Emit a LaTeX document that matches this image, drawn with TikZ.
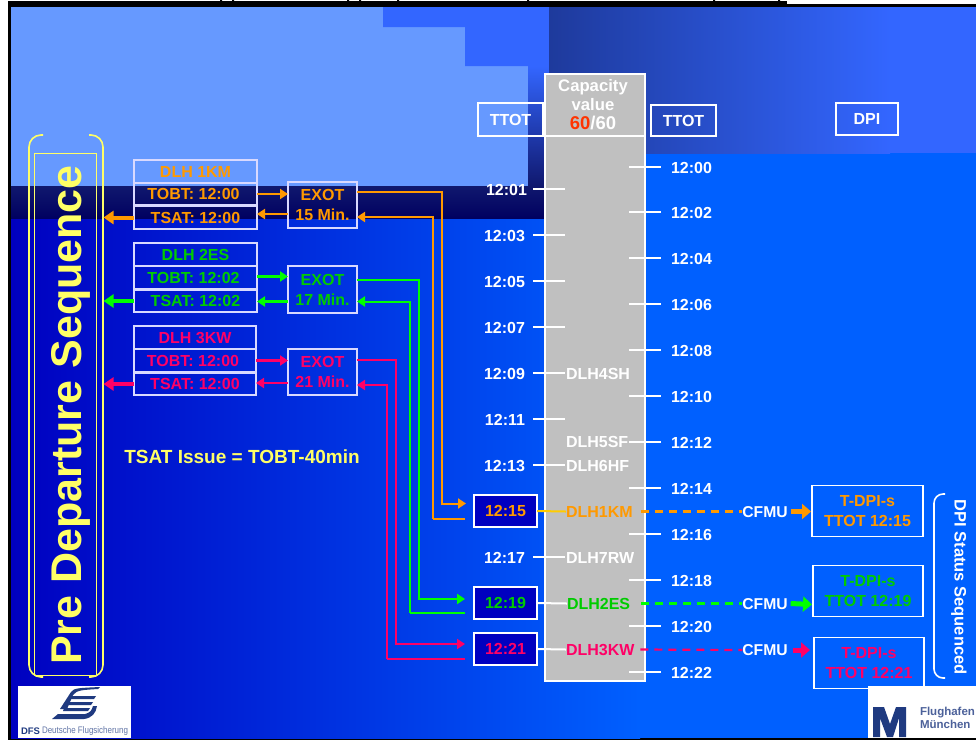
\documentclass[tikz,border=0pt]{standalone}
\usepackage{fontspec}
\usepackage{graphicx}
\setmainfont{Liberation Sans}
\usetikzlibrary{arrows.meta,calc}
\definecolor{lightbg}{HTML}{6699FF}
\definecolor{midbg}{HTML}{3366FF}
\definecolor{deep}{HTML}{0000C0}
\definecolor{sky}{HTML}{0060FF}
\definecolor{navyA}{HTML}{10186E}
\definecolor{navyB}{HTML}{000060}
\definecolor{topdark}{HTML}{1E3A9C}
\definecolor{cola}{HTML}{FF9900}
\definecolor{colb}{HTML}{00CC00}
\definecolor{colc}{HTML}{FF0066}
\definecolor{linea}{HTML}{FF9900}
\definecolor{lineb}{HTML}{00FF00}
\definecolor{linec}{HTML}{FF0066}
\definecolor{yel}{HTML}{FFFF66}
\definecolor{grey}{HTML}{C0C0C0}
\definecolor{logo}{HTML}{1F3A80}
\tikzset{
  x=1pt,y=-1pt,
  every node/.style={font=\bfseries,inner sep=0pt,outer sep=0pt},
  softbox/.style={draw=white!85!blue,line width=1.2pt,align=center,font=\bfseries\fontsize{16}{20}\selectfont},
  wbox/.style={draw=white,line width=1.5pt,align=center,font=\bfseries\fontsize{16}{19.5}\selectfont},
  timebox/.style={draw=white,line width=1.5pt,fill=deep,font=\bfseries\fontsize{16}{16}\selectfont},
  tick/.style={draw=white,line width=2pt},
  lab/.style={text=white,font=\bfseries\fontsize{16}{16}\selectfont},
  fl/.style={font=\bfseries\fontsize{16}{16}\selectfont,anchor=west},
  arr/.style={line width=2.6pt,-{Triangle[length=8pt,width=10pt]}},
  arrthick/.style={line width=4pt,-{Triangle[length=10pt,width=13pt]}},
  route/.style={line width=2pt,-{Triangle[length=8pt,width=10pt]}},
  routeback/.style={line width=2pt,-{Triangle[length=8pt,width=10pt]}},
  routetail/.style={line width=1.5pt},
  dashline/.style={line width=2.8pt,dash pattern=on 8pt off 6pt},
  blockarr/.style={line width=5pt,-{Triangle[length=9pt,width=15pt]}},
  brack/.style={line width=1.6pt,rounded corners=12pt},
}
\newcommand{\bx}[6]{\node[#1,minimum width=#4pt-#2pt,minimum height=#5pt-#3pt] (#6) at ({(#2+#4)/2},{(#3+#5)/2})}
\begin{document}
\begin{tikzpicture}
\useasboundingbox (0,0) rectangle (976,740);
% backgrounds
\fill[white] (0,0) rectangle (976,740);
\fill[black] (8,1) rectangle (11,740);
\fill[black] (8,738) rectangle (976,740);
\fill[black] (220,0) rectangle (222,1) (232,0) rectangle (234,1) (347,0) rectangle (349,1) (359,0) rectangle (361,1) (397,0) rectangle (399,1) (527,0) rectangle (529,1) (713,0) rectangle (715,1) (778,0) rectangle (780,1);
\fill[lightbg] (11,7) rectangle (528,186);
\fill[midbg] (383,7) rectangle (549,27) (465,27) rectangle (549,66);
\shade[top color=midbg,bottom color=navyA] (528,66) rectangle (549,186);
\shade[top color=navyA,bottom color=navyB] (11,186) rectangle (549,219);
\shade[left color=deep,right color=sky] (11,219) rectangle (640,738);
\fill[sky] (640,153) rectangle (976,738);
\fill[sky] (545,153) rectangle (640,219);
\shade[left color=topdark,right color=midbg] (549,7) rectangle (890,153);
\fill[midbg] (890,7) rectangle (976,153);
\fill[black] (8,1) rectangle (787,7);
\fill[black] (787,4) rectangle (976,7);
% pre departure frame
\draw[yel,line width=0.9pt] (34,153) rectangle (96,675);
\draw[yel,brack] (43,135) -- (29,135) -- (29,677) -- (43,677);
\draw[yel,brack] (89,135) -- (103,135) -- (103,677) -- (89,677);
\node[rotate=90,text=yel,font=\bfseries\fontsize{43}{43}\selectfont] (pds) at (70.5,415) {Pre Departure Sequence};
% flight strips
\bx{softbox,text=cola}{134}{160}{257}{183}{t1} {DLH 1KM};
\bx{softbox,text=cola}{134}{183}{257}{205}{o1} {\kern-4pt TOBT: 12:00};
\bx{softbox,text=cola}{134}{206}{257}{229}{s1} {TSAT: 12:00};
\bx{softbox,text=cola}{288}{182}{357}{228}{e1} {EXOT\\15 Min.};
\bx{softbox,text=colb}{134}{243}{257}{266}{t2} {DLH 2ES};
\bx{softbox,text=colb}{134}{266}{257}{289}{o2} {\kern-4pt TOBT: 12:02};
\bx{softbox,text=colb}{134}{290}{257}{312}{s2} {TSAT: 12:02};
\bx{softbox,text=colb}{288}{266}{357}{313}{e2} {EXOT\\17 Min.};
\bx{softbox,text=colc}{134}{326}{256}{349}{t3} {DLH 3KW};
\bx{softbox,text=colc}{134}{349}{256}{372}{o3} {\kern-4pt TOBT: 12:00};
\bx{softbox,text=colc}{134}{373}{256}{395}{s3} {TSAT: 12:00};
\bx{softbox,text=colc}{288}{349}{357}{395}{e3} {EXOT\\21 Min.};
\node[text=yel,font=\bfseries\fontsize{19}{19}\selectfont] (issue) at (242,457) {TSAT Issue = TOBT-40min};
% column
\draw[white,line width=2pt,fill=grey] (545,74) rectangle (645,681);
\draw[white,line width=2pt] (545,136) -- (645,136);
\node[text=white,font=\bfseries\fontsize{16.7}{19}\selectfont,align=center] (cap) at (593,104.5) {Capacity\\value\\{\fontsize{18.5}{19}\selectfont\textcolor[HTML]{FF3300}{60}/60}};
\bx{wbox,text=white}{478}{103}{543}{136}{ttl} {TTOT};
\bx{wbox,text=white}{651}{105}{716}{136}{ttr} {TTOT};
\bx{wbox,text=white}{836}{103}{898}{135}{dpi} {DPI};
% ticks right
\foreach \t/\y in {00/167,02/212,04/258,06/304,08/350,10/396,12/442,14/488,16/534,18/580,20/626,22/672}{
  \coordinate (ra\t) at (629,\y);
  \coordinate (rb\t) at (661,\y);
  \draw[tick] (ra\t) -- (rb\t);
  \node[lab,anchor=west] (rl\t) at ($(rb\t)+(10,1)$) {12:\t};
}
% ticks left
\foreach \t/\y/\g in {01/189/6,03/235/8,05/281/8,07/327/8,09/373/8,11/419/8,13/465/8,17/557/8}{
  \coordinate (la\t) at (533,\y);
  \coordinate (lb\t) at (565,\y);
  \draw[tick] (la\t) -- (lb\t);
  \node[lab,anchor=east] (ll\t) at ($(la\t)+(-\g,1)$) {12:\t};
}
% flights
\node[fl,text=white] (f4) at (566,374) {DLH4SH};
\node[fl,text=white] (f5) at (566,442) {DLH5SF};
\node[fl,text=white] (f6) at (566,466) {DLH6HF};
\node[fl,text=white] (f7) at (566,557.5) {DLH7RW};
\node[fl,text=cola] (f1) at (566,511.5) {DLH1KM};
\node[fl,text=colb] (f2) at (567,603.5) {DLH2ES};
\node[fl,text=colc] (f3) at (566,649.5) {DLH3KW};
% time boxes
\bx{timebox,text=cola}{474}{495}{537}{527}{b1} {12:15};
\bx{timebox,text=colb}{474}{587}{537}{619}{b2} {12:19};
\bx{timebox,text=colc}{474}{633}{537}{665}{b3} {12:21};
\draw[line width=2pt,draw={rgb,255:red,255;green,204;blue,0}] (b1.east) -- (f1.west);
\draw[tick] (b2.east) -- (f2.west);
\draw[tick] (b3.east) -- (f3.west);
% DPI
\bx{wbox,text=cola}{812}{485.5}{923}{536.5}{d1} {T-DPI-s\\TTOT 12:15};
\bx{wbox,text=colb}{813}{565.5}{923}{616.5}{d2} {T-DPI-s\\TTOT 12:19};
\bx{wbox,text=colc}{814}{637.5}{924}{688.5}{d3} {T-DPI-s\\TTOT 12:21};
\node[text=white,font=\bfseries\fontsize{15.7}{15.7}\selectfont] (c1) at (765,512.5) {CFMU};
\node[text=white,font=\bfseries\fontsize{15.7}{15.7}\selectfont] (c2) at (765,604.5) {CFMU};
\node[text=white,font=\bfseries\fontsize{15.7}{15.7}\selectfont] (c3) at (765,650) {CFMU};
\draw[dashline,linea] ($(f1.east)+(8,0)$) -- ($(c1.west)+(0,-1)$);
\draw[dashline,lineb] ($(f2.east)+(11,0)$) -- ($(c2.west)+(0,-1)$);
\draw[dashline,linec,line width=2.2pt] ($(f3.east)+(6,0)$) -- (c3.west);
\draw[blockarr,linea] ([xshift=3pt,yshift=1pt]c1.east) -- ([xshift=-1pt,yshift=-0.5pt]d1.west);
\draw[blockarr,lineb] ([xshift=3pt,yshift=1pt]c2.east) -- ($(d2.west |- c2)+(-1,0)$);
\draw[blockarr,linec] ([xshift=5pt]c3.east) -- ($(d3.west |- c3)+(-4,0)$);
\draw[white,brack,rounded corners=9pt] (945,494) -- (934,494) -- (934,678) -- (945,678);
\node[rotate=-90,text=white,font=\bfseries\fontsize{16.5}{16.5}\selectfont] (status) at (959,587) {DPI Status Sequenced};
% connectors: strip to exot
\draw[arr,linea] (o1.east) -- (e1.west |- o1.east);
\draw[arr,linea] ([yshift=-9pt]e1.west) -- ([yshift=-9pt]e1.west -| s1.east);
\draw[arrthick,linea] (s1.west) -- (103.5,217.5);
\draw[arr,lineb] ([yshift=1pt]o2.east) -- ([yshift=1pt]e2.west |- o2.east);
\draw[arr,lineb] ([yshift=-12pt]e2.west) -- ([yshift=-12pt]e2.west -| s2.east);
\draw[arrthick,lineb] (s2.west) -- (103.5,301);
\draw[arr,linec] (o3.east) -- (e3.west |- o3.east);
\draw[arr,linec] ([yshift=-11pt]e3.west) -- ([yshift=-11pt]e3.west -| s3.east);
\draw[arrthick,linec] (s3.west) -- (103.5,384);
% connectors: exot to slot
\coordinate (a1) at (442,503.5); \coordinate (a2) at (433,519);
\coordinate (g1) at (419,599); \coordinate (g2) at (410,613);
\coordinate (r1) at (396,644); \coordinate (r2) at (387,659);
\draw[route,linea] ([yshift=13pt]e1.east) -| (a1) -- ($(b1.west |- a1)+(-8,0)$);
\draw[routeback,linea] (a2) |- ([yshift=-12pt]e1.east);
\draw[routetail,linea] (a2) -- ($(b1.west |- a2)+(-9,0)$);
\draw[route,lineb] ([yshift=10pt]e2.east) -| (g1) -- ($(b2.west |- g1)+(-9,0)$);
\draw[routeback,lineb] (g2) |- ([yshift=-12pt]e2.east);
\draw[routetail,lineb] (g2) -- ($(b2.west |- g2)+(-9,0)$);
\draw[route,linec] ([yshift=12pt]e3.east) -| (r1) -- ($(b3.west |- r1)+(-9,0)$);
\draw[routeback,linec] (r2) |- ([yshift=-13pt]e3.east);
\draw[routetail,linec] (r2) -- ($(b3.west |- r2)+(-9,0)$);
% logos
\fill[white] (18,686) rectangle (131,738);
\fill[white] (868,686) rectangle (976,738);
\fill[logo] (71,692) .. controls (74,688) and (78,688) .. (100,687) -- (98,689) .. controls (82,690) and (77,690) .. (73,695) -- (67,709) -- (60,709) -- cycle;
\fill[logo] (70,696) -- (96,696) -- (94,699) -- (69,699) -- cycle;
\fill[logo] (67,702) -- (93,702) -- (91,705) -- (66,705) -- cycle;
\fill[logo] (64,708) -- (90,708) -- (88,711) -- (63,711) -- cycle;
\fill[logo] (58,714) -- (85,714) .. controls (90,713) and (92,710) .. (93,706) -- (97,706) .. controls (96,713) and (92,718) .. (84,719) -- (52,719) -- cycle;
\node[anchor=west,text=logo,font=\bfseries\fontsize{9.5}{9.5}\selectfont] (dfs) at (21,731) {DFS};
\node[anchor=west,text=logo!70!white,font=\mdseries\fontsize{9.5}{9.5}\selectfont] (dfst) at (42,731) {\scalebox{0.84}[1]{Deutsche Flugsicherung}};
\fill[logo] (873,737) -- (873,707) -- (884,707) -- (890,724) -- (896,707) -- (906,707) -- (906,737) -- (899,737) -- (899,718) -- (893,737) -- (887,737) -- (880,718) -- (880,737) -- cycle;
\node[anchor=west,text=logo!80!white,font=\bfseries\fontsize{11.5}{12.5}\selectfont,align=left] (muc) at (920,718) {Flughafen\\München};
\end{tikzpicture}
\end{document}
